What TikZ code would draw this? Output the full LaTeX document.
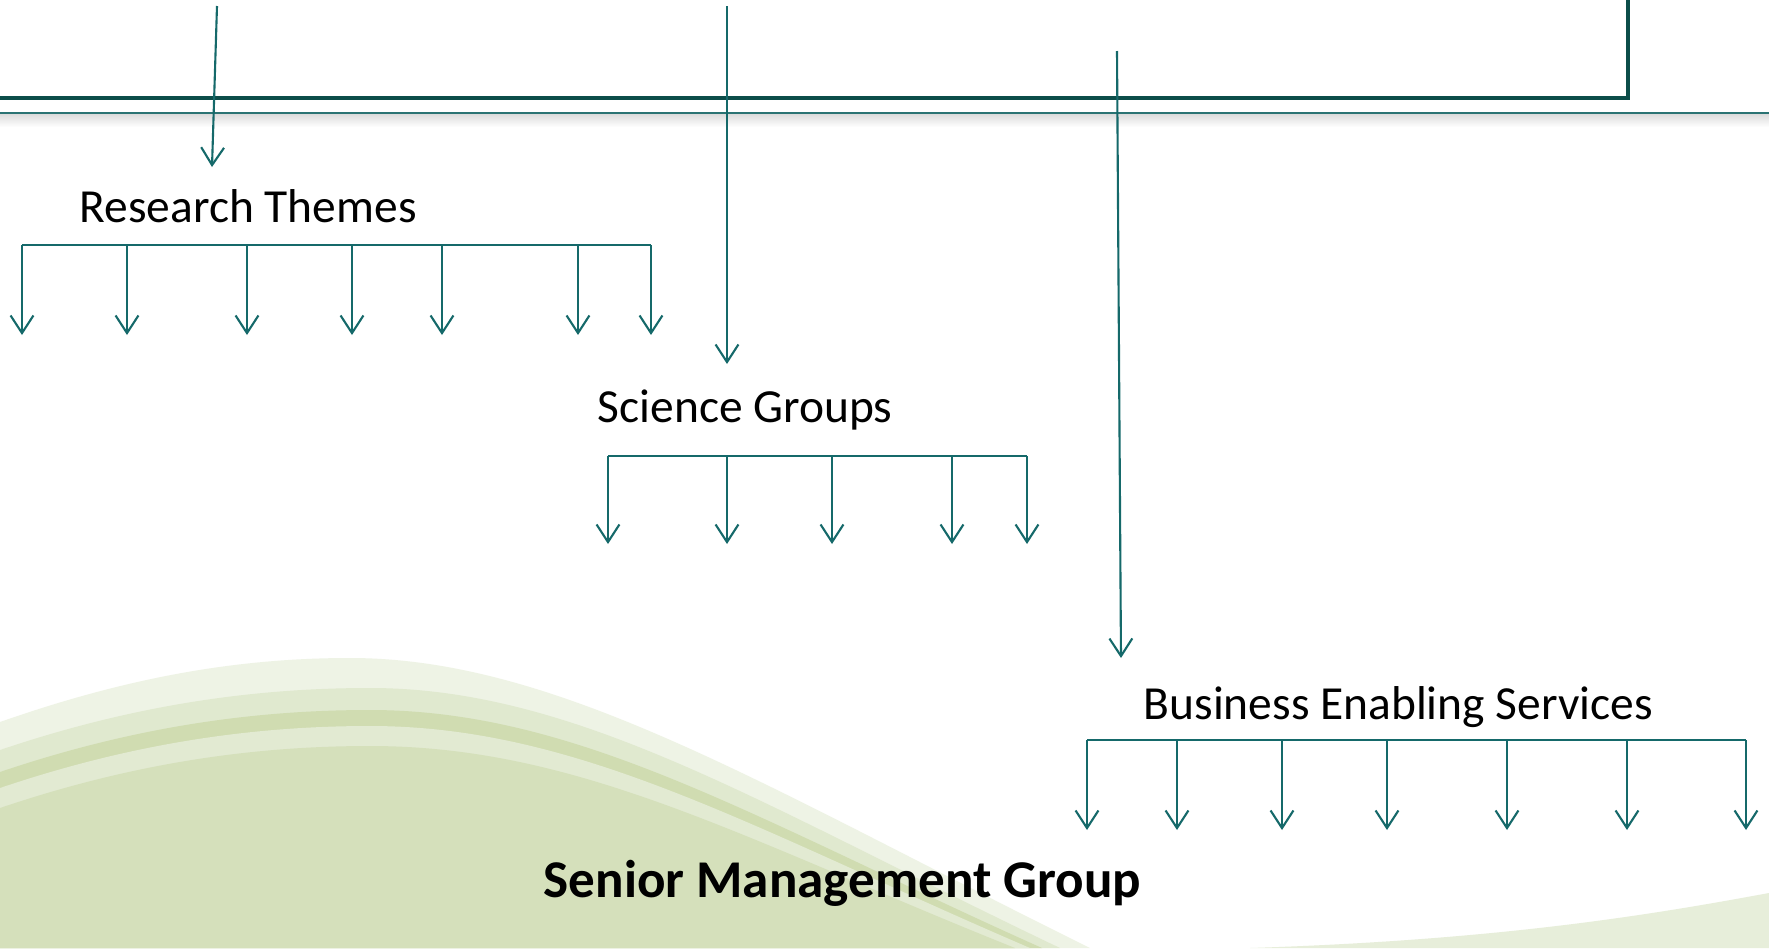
\documentclass[tikz,border=0pt]{standalone}
\usepackage{fontspec}
\setmainfont{Carlito}
\usetikzlibrary{arrows.meta,positioning}
\definecolor{tealdark}{HTML}{0C4D49}
\definecolor{tealline}{HTML}{2B7373}
\definecolor{tealarrow}{HTML}{15696A}
\definecolor{wavefaint}{HTML}{EEF3E5}
\definecolor{waveband}{HTML}{E0E9CF}
\definecolor{wavestripe}{HTML}{D0DCB1}
\definecolor{wavelight}{HTML}{E2EAD2}
\definecolor{wavemain}{HTML}{D5E0BB}
\definecolor{wavecorner}{HTML}{E7EEDA}
\tikzstyle{unit}=[inner sep=0pt,anchor=base west,font=\fontsize{13.5}{16}\selectfont]
\tikzstyle{smg}=[inner sep=0pt,anchor=base west,font=\fontsize{15.1}{18}\selectfont\bfseries]
\tikzstyle{feed}=[color=tealarrow,line width=0.6pt,-{Straight Barb[length=5pt,width=6.5pt]}]
\tikzstyle{bar}=[color=tealarrow,line width=0.6pt]

\begin{document}
\begin{tikzpicture}[x=0.01cm,y=-0.01cm]
  \useasboundingbox (0,0) rectangle (1769,948);
  \fill[white] (0,0) rectangle (1769,948);

  \fill[wavefaint] (0,722) .. controls (120,680) and (230,658) .. (350,658)
    .. controls (560,658) and (770,790) .. (1090,948) -- (0,948) -- cycle;
  \fill[waveband] (0,750) .. controls (130,706) and (250,688) .. (370,688)
    .. controls (580,688) and (770,810) .. (1060,948) -- (0,948) -- cycle;
  \fill[wavestripe] (0,772) .. controls (130,728) and (250,710) .. (370,710)
    .. controls (580,710) and (760,822) .. (1042,948) -- (0,948) -- cycle;
  \fill[wavelight] (0,788) .. controls (130,744) and (250,726) .. (370,726)
    .. controls (580,726) and (755,830) .. (1030,948) -- (0,948) -- cycle;
  \fill[wavemain] (0,808) .. controls (130,764) and (250,746) .. (370,746)
    .. controls (580,746) and (745,840) .. (1015,948) -- (0,948) -- cycle;
  \fill[wavecorner] (1250,948) .. controls (1500,940) and (1650,915) .. (1769,893)
    -- (1769,948) -- cycle;

  \shade[top color=black!14,bottom color=white] (0,114) rectangle (1769,127);
  \draw[tealline,line width=0.75pt] (0,113) -- (1769,113);
  \draw[tealdark,line width=1.4pt] (0,98) -- (1628,98) -- (1628,-5);

  \node[unit] (rt) at (79,222) {Research Themes};
  \node[unit] (sg) at (597,422) {Science Groups};
  \node[unit] (bes) at (1143,719) {Business Enabling Services};
  \node[smg] (smg) at (543,897) {Senior Management Group};

  \coordinate (rt-src) at (217,6);
  \coordinate (rt-in) at (212,167);
  \coordinate (sg-src) at (727,6);
  \coordinate (sg-in) at (727,364);
  \coordinate (bes-src) at (1117,51);
  \coordinate (bes-in) at (1121,658);
  \draw[feed] (rt-src) -- (rt-in);
  \draw[feed] (sg-src) -- (sg-in);
  \draw[feed] (bes-src) -- (bes-in);

  \foreach \x [count=\i] in {22,127,247,352,442,578,651}{
    \coordinate (rt-top\i) at (\x,245);
    \coordinate (rt-end\i) at (\x,335);
    \draw[feed] (rt-top\i) -- (rt-end\i);
  }
  \draw[bar] (rt-top1) -- (rt-top7);

  \foreach \x [count=\i] in {608,727,832,952,1027}{
    \coordinate (sg-top\i) at (\x,456);
    \coordinate (sg-end\i) at (\x,544);
    \draw[feed] (sg-top\i) -- (sg-end\i);
  }
  \draw[bar] (sg-top1) -- (sg-top5);

  \foreach \x [count=\i] in {1087,1177,1282,1387,1507,1627,1746}{
    \coordinate (bes-top\i) at (\x,740);
    \coordinate (bes-end\i) at (\x,830);
    \draw[feed] (bes-top\i) -- (bes-end\i);
  }
  \draw[bar] (bes-top1) -- (bes-top7);
\end{tikzpicture}
\end{document}
